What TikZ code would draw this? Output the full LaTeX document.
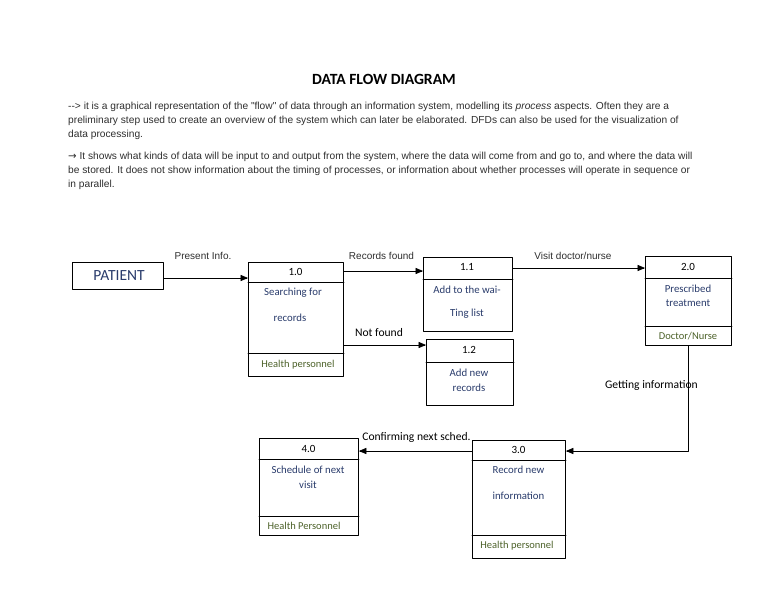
\documentclass[tikz,border=0pt]{standalone}
\usepackage{fontspec}
\usepackage{tikz}
\usetikzlibrary{calc}
\usetikzlibrary{arrows}
\newfontfamily\arialfont{Liberation Sans}
\newfontfamily\calfont{Carlito}
\newfontfamily\symfont{DejaVu Sans}
\definecolor{navytxt}{rgb}{0.16,0.23,0.42}
\definecolor{olivetxt}{rgb}{0.30,0.38,0.16}
\definecolor{greytxt}{rgb}{0.18,0.18,0.18}
\tikzset{
  box/.style={draw,line width=0.9pt,anchor=north west,inner sep=0pt},
  numtxt/.style={font=\calfont\fontsize{11}{12}\selectfont},
  proctxt/.style={font=\calfont\fontsize{10.8}{12}\selectfont,color=navytxt},
  whotxt/.style={font=\calfont\fontsize{10.5}{12}\selectfont,color=olivetxt},
  flowtxt/.style={font=\arialfont\fontsize{10}{12}\selectfont,color=greytxt},
  flowcal/.style={font=\calfont\fontsize{11.6}{13}\selectfont},
  paratxt/.style={font=\arialfont\fontsize{10.2}{14.2}\selectfont,color=greytxt,anchor=north west,align=left,inner sep=0pt}
}
\begin{document}
\begin{tikzpicture}[line cap=round,line join=round,>=triangle 45,x=1pt,y=-1pt]
            \useasboundingbox (0,0) rectangle (768,594);
            % heading and text
            \node[font=\calfont\bfseries\fontsize{15.6}{18}\selectfont] (title) at (384,79) {DATA FLOW DIAGRAM};
            \node[paratxt] (para1) at (68,101.5) {-{}-> it is a graphical representation of the "flow" of data through an information system, modelling its \textit{process} aspects. Often they are a\\preliminary step used to create an overview of the system which can later be elaborated. DFDs can also be used for the visualization of\\data processing.};
            \node[paratxt] (para2) at (68,151.5) {{\symfont→} It shows what kinds of data will be input to and output from the system, where the data will come from and go to, and where the data will\\be stored. It does not show information about the timing of processes, or information about whether processes will operate in sequence or\\in parallel.};
            % boxes
            \node[box,minimum width=91pt,minimum height=27pt] (patient) at (72,262) {};
            \node[box,minimum width=95pt,minimum height=114pt] (b10) at (248,262) {};
            \node[box,minimum width=89pt,minimum height=74pt] (b11) at (423,257) {};
            \node[box,minimum width=87pt,minimum height=66pt] (b12) at (426,339) {};
            \node[box,minimum width=86pt,minimum height=89pt] (b20) at (645,256) {};
            \node[box,minimum width=99pt,minimum height=97pt] (b40) at (259,438) {};
            \node[box,minimum width=93pt,minimum height=118pt] (b30) at (472,440) {};
            % dividing lines
            \draw [line width=0.9pt] (b10.west |- 0,282) -- (b10.east |- 0,282);
            \draw [line width=0.9pt] (b10.west |- 0,353) -- (b10.east |- 0,353);
            \draw [line width=0.9pt] (b11.west |- 0,279) -- (b11.east |- 0,279);
            \draw [line width=0.9pt] (b12.west |- 0,362) -- (b12.east |- 0,362);
            \draw [line width=0.9pt] (b20.west |- 0,278) -- (b20.east |- 0,278);
            \draw [line width=0.9pt] (b20.west |- 0,326) -- (b20.east |- 0,326);
            \draw [line width=0.9pt] (b40.west |- 0,459) -- (b40.east |- 0,459);
            \draw [line width=0.9pt] (b40.west |- 0,516) -- (b40.east |- 0,516);
            \draw [line width=0.9pt] (b30.west |- 0,460) -- (b30.east |- 0,460);
            \draw [line width=0.9pt] (b30.west |- 0,535) -- (b30.east |- 0,535);
            % texts in the boxes
            \node[font=\calfont\fontsize{15.5}{17}\selectfont,color=navytxt] (tpat) at (119,275.5) {PATIENT};
            \node[numtxt] (n10) at (295.5,272) {1.0};
            \node[proctxt] (p10a) at (293,293) {Searching for};
            \node[proctxt] (p10b) at (290,318) {records};
            \node[whotxt] (w10) at (298,364.5) {Health personnel};
            \node[numtxt] (n11) at (467,267) {1.1};
            \node[proctxt] (p11a) at (467,289.5) {Add to the wai-};
            \node[proctxt] (p11b) at (467,314) {Ting list};
            \node[numtxt] (n12) at (469,350) {1.2};
            \node[proctxt] (p12a) at (469,373) {Add new};
            \node[proctxt] (p12b) at (469,388) {records};
            \node[numtxt] (n20) at (688,267) {2.0};
            \node[proctxt] (p20a) at (688,288.5) {Prescribed};
            \node[proctxt] (p20b) at (688,303.5) {treatment};
            \node[whotxt] (w20) at (688,336) {Doctor/Nurse};
            \node[numtxt] (n40) at (308.5,449) {4.0};
            \node[proctxt] (p40a) at (308,469.5) {Schedule of next};
            \node[proctxt] (p40b) at (308,484.5) {visit};
            \node[whotxt] (w40) at (304,525.5) {Health Personnel};
            \node[numtxt] (n30) at (518.5,450) {3.0};
            \node[proctxt] (p30a) at (518.5,470) {Record new};
            \node[proctxt] (p30b) at (518.5,495.5) {information};
            \node[whotxt] (w30) at (517,545.5) {Health personnel};
            % flow labels
            \node[flowtxt] (lpres) at (203,256) {Present Info.};
            \node[flowtxt] (lrec) at (381.5,256) {Records found};
            \node[flowcal] (lnot) at (379,333) {Not found};
            \node[flowtxt] (lvis) at (573,256) {Visit doctor/nurse};
            \node[flowcal] (lget) at (651.5,385) {Getting information};
            \node[flowcal] (lconf) at (416.5,437) {Confirming next sched.};
            % flows
            \coordinate (cpat) at (patient.east |- 0,278);
            \coordinate (crec) at (b10.east |- 0,271);
            \coordinate (cnot) at (b10.east |- 0,345);
            \coordinate (cvis) at (b11.east |- 0,268);
            \coordinate (cbend) at (b20.south |- 0,451);
            \coordinate (cconf) at (b30.west |- 0,451);
            \draw [->,line width=0.7pt] (cpat) -- (cpat -| b10.west);
            \draw [->,line width=0.7pt] (crec) -- (crec -| b11.west);
            \draw [->,line width=0.7pt] (cnot) -- (cnot -| b12.west);
            \draw [->,line width=0.7pt] (cvis) -- (cvis -| b20.west);
            \draw [->,line width=0.7pt] (b20.south) -- (cbend) -- (cbend -| b30.east);
            \draw [->,line width=0.7pt] (cconf) -- (cconf -| b40.east);
\end{tikzpicture}
\end{document}
